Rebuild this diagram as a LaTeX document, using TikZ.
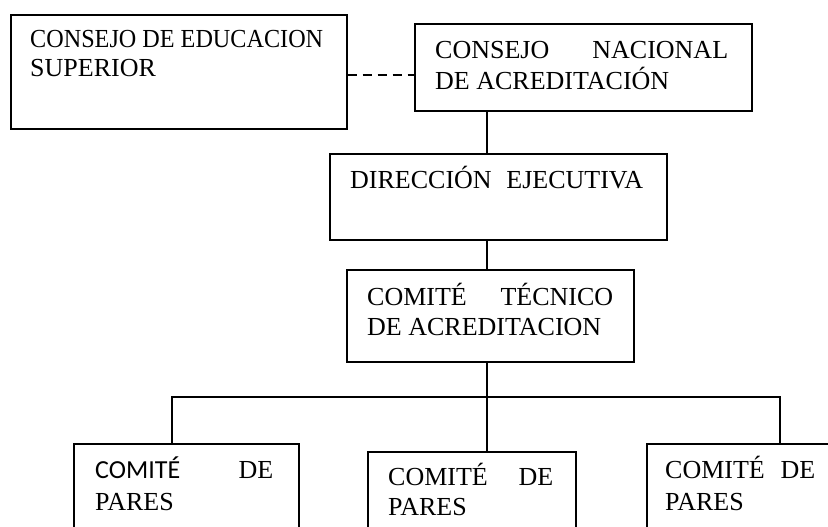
\documentclass[tikz,border=0pt]{standalone}
\usepackage{graphicx}
\usepackage{fontspec}
\setmainfont{Liberation Serif}
\newfontfamily\calibrifont{Carlito}
\begin{document}
\begin{tikzpicture}[x=1pt,y=-1pt,
  box/.style={draw=black,line width=1.6pt,inner sep=0pt,anchor=north west},
  txt/.style={anchor=base west,inner sep=0pt,font=\fontsize{26}{30}\selectfont},
  conn/.style={draw=black,line width=1.6pt},
  dashconn/.style={conn,dash pattern=on 9pt off 6pt}]
\clip (0,0) rectangle (828,527);
\fill[white] (0,0) rectangle (828,527);
% boxes
\node[box,minimum width=336pt,minimum height=114pt] (ces) at (10,14) {};
\node[box,minimum width=337pt,minimum height=87pt] (cna) at (414,23) {};
\node[box,minimum width=337pt,minimum height=86pt] (de) at (329,153) {};
\node[box,minimum width=287pt,minimum height=92pt] (cta) at (346,269) {};
\node[box,minimum width=225pt,minimum height=120pt] (cp1) at (73,443) {};
\node[box,minimum width=208pt,minimum height=120pt] (cp2) at (367,451) {};
\node[box,minimum width=220pt,minimum height=120pt] (cp3) at (646,443) {};
% texts
\node[txt] (t1a) at (30,48) {\resizebox{293pt}{\height}{CONSEJO DE EDUCACION}};
\node[txt] (t1b) at (30,77) {SUPERIOR};
\node[txt] (t2a) at (435,59) {\makebox[293pt][s]{CONSEJO NACIONAL}};
\node[txt] (t2b) at (435,89) {DE ACREDITACIÓN};
\node[txt] (t3a) at (350,188) {\makebox[293pt][s]{DIRECCIÓN EJECUTIVA}};
\node[txt] (t4a) at (367,305) {\makebox[246pt][s]{COMITÉ TÉCNICO}};
\node[txt] (t4b) at (367,335) {DE ACREDITACION};
\node[txt] (t5a) at (95,478) {\makebox[178pt][s]{{\calibrifont COMITÉ} DE}};
\node[txt] (t5b) at (95,510) {PARES};
\node[txt] (t6a) at (388,485) {\makebox[165pt][s]{COMITÉ DE}};
\node[txt] (t6b) at (388,515) {PARES};
\node[txt] (t7a) at (665,478) {\makebox[150pt][s]{COMITÉ DE}};
\node[txt] (t7b) at (665,510) {PARES};
% connectors
\coordinate (spine) at (487,0);
\coordinate (barL) at (172,397);
\coordinate (barM) at (487,397);
\coordinate (barR) at (780,397);
\draw[dashconn] ([yshift=-3pt]ces.east) -- ([yshift=-3pt]ces.east -| cna.west);
\draw[conn] (cna.south -| spine) -- (de.north -| spine);
\draw[conn] (de.south -| spine) -- (cta.north -| spine);
\draw[conn] (cta.south -| spine) -- (barM);
\draw[conn] (barL |- cp1.north) -- (barL) -- (barR) -- (barR |- cp3.north);
\draw[conn] (barM) -- (barM |- cp2.north);
\end{tikzpicture}
\end{document}
